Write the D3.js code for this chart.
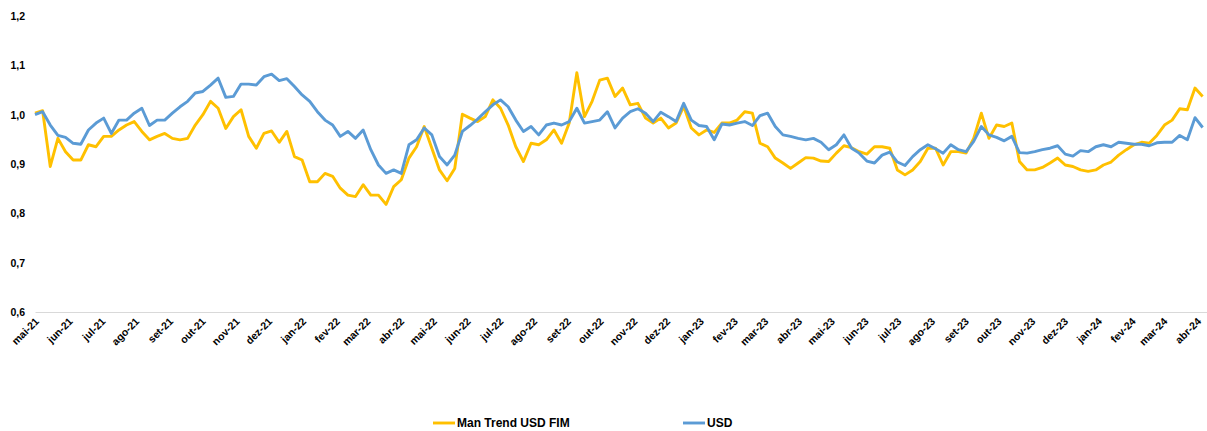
<!DOCTYPE html>
<html><head><meta charset="utf-8">
<script src="https://cdn.jsdelivr.net/npm/d3@7"></script>
<style>
html,body{margin:0;padding:0;background:#fff;}
svg{display:block;}
text{font-family:"Liberation Sans",Arial,sans-serif;font-weight:bold;fill:#000;}
</style></head>
<body><svg id="chart" width="1207" height="431"></svg>
<script>
const seriesNames = ["Man Trend USD FIM", "USD"];
const startDate = "2021-04-29";
const stepDays = 7;
const manTrend = [
1.003,1.008,0.895,0.952,0.925,0.908,0.908,0.939,0.935,0.956,
0.956,0.969,0.979,0.986,0.966,0.949,0.956,0.962,0.952,0.949,
0.952,0.979,1.000,1.027,1.013,0.972,0.996,1.010,0.956,0.932,
0.962,0.967,0.944,0.966,0.915,0.908,0.864,0.864,0.881,0.875,
0.851,0.837,0.834,0.858,0.837,0.837,0.818,0.854,0.868,0.912,
0.935,0.976,0.932,0.888,0.866,0.891,1.001,0.993,0.986,0.996,
1.030,1.013,0.979,0.935,0.905,0.942,0.939,0.949,0.969,0.942,
0.983,1.085,0.996,1.027,1.070,1.074,1.037,1.054,1.020,1.023,
0.993,0.983,0.993,0.973,0.983,1.017,0.973,0.959,0.969,0.964,
0.983,0.983,0.989,1.006,1.003,0.942,0.935,0.912,0.902,0.891,
0.902,0.913,0.912,0.906,0.905,0.922,0.937,0.933,0.925,0.920,
0.935,0.935,0.932,0.888,0.878,0.888,0.905,0.932,0.932,0.898,
0.925,0.925,0.922,0.952,1.003,0.952,0.979,0.976,0.983,0.905,
0.888,0.888,0.893,0.902,0.912,0.898,0.895,0.888,0.885,0.888,
0.898,0.904,0.918,0.929,0.939,0.944,0.942,0.958,0.979,0.989,
1.012,1.010,1.054,1.037];
const usd = [
1.000,1.006,0.979,0.958,0.954,0.942,0.940,0.969,0.983,0.993,
0.962,0.989,0.989,1.003,1.013,0.978,0.989,0.989,1.003,1.016,
1.027,1.044,1.047,1.060,1.074,1.035,1.037,1.062,1.062,1.060,
1.077,1.082,1.069,1.073,1.057,1.040,1.027,1.006,0.989,0.979,
0.956,0.966,0.952,0.969,0.929,0.898,0.881,0.888,0.881,0.939,
0.949,0.973,0.959,0.915,0.898,0.918,0.966,0.978,0.991,1.006,
1.020,1.030,1.016,0.989,0.966,0.976,0.959,0.979,0.983,0.979,
0.986,1.013,0.983,0.986,0.989,1.006,0.973,0.993,1.006,1.012,
1.003,0.986,1.005,0.996,0.986,1.023,0.989,0.978,0.976,0.949,
0.981,0.979,0.983,0.986,0.978,0.998,1.003,0.976,0.959,0.956,
0.952,0.949,0.952,0.944,0.929,0.939,0.959,0.932,0.922,0.906,
0.902,0.918,0.924,0.904,0.897,0.915,0.929,0.939,0.931,0.922,
0.939,0.929,0.925,0.946,0.976,0.959,0.954,0.947,0.956,0.923,
0.922,0.925,0.929,0.932,0.937,0.920,0.916,0.927,0.925,0.935,
0.939,0.935,0.944,0.942,0.940,0.940,0.937,0.943,0.944,0.944,
0.958,0.949,0.994,0.974];
const yTicks = [0.6, 0.7, 0.8, 0.9, 1.0, 1.1, 1.2];
const monthNames = ["jan","fev","mar","abr","mai","jun","jul","ago","set","out","nov","dez"];
const axisStart = "2021-04-29", axisEnd = "2024-04-08";
const firstMonth = "2021-05-01", lastMonth = "2024-04-01";

const parse = d3.utcParse("%Y-%m-%d");
const t0 = parse(startDate);
const dates = manTrend.map((_, i) => d3.utcDay.offset(t0, i * stepDays));

const svg = d3.select("#chart");
const x = d3.scaleUtc().domain([parse(axisStart), parse(axisEnd)]).range([35, 1207]);
const y = d3.scaleLinear().domain([0.6, 1.2]).range([312, 16]);

// y axis labels
const yAxis = d3.axisLeft(y).tickValues(yTicks).tickSize(0).tickPadding(0)
  .tickFormat(d => d3.format(".1f")(d).replace(".", ","));
svg.append("g").attr("transform", "translate(25,0)").call(yAxis)
  .call(g => g.select(".domain").remove())
  .call(g => g.selectAll("text").attr("font-size", 10.5).attr("font-family", "Liberation Sans").attr("font-weight","bold").attr("fill","#000"));

// x axis
const monthTicks = d3.utcMonth.range(parse(firstMonth), d3.utcDay.offset(parse(lastMonth), 1));
const xAxis = d3.axisBottom(x).tickValues(monthTicks).tickSize(0).tickPadding(0)
  .tickFormat(d => monthNames[d.getUTCMonth()] + "-" + String(d.getUTCFullYear()).slice(2));
const gx = svg.append("g").attr("transform", "translate(0,312)").call(xAxis);
gx.select(".domain").attr("stroke", "#d9d9d9").attr("stroke-width", 1);
gx.selectAll("text")
  .attr("font-size", 10.5).attr("font-family", "Liberation Sans").attr("font-weight","bold").attr("fill","#000")
  .attr("text-anchor", "end").attr("dy", null).attr("y", 0)
  .attr("transform", "translate(2,10) rotate(-45)");

// lines
const line = d3.line().x((d, i) => x(dates[i])).y(d => y(d)).curve(d3.curveLinear);
svg.append("path").datum(manTrend).attr("fill", "none").attr("stroke", "#FFC000")
  .attr("stroke-width", 2.9).attr("stroke-linejoin", "round").attr("d", line);
svg.append("path").datum(usd).attr("fill", "none").attr("stroke", "#5B9BD5")
  .attr("stroke-width", 2.9).attr("stroke-linejoin", "round").attr("d", line);

// legend
const legend = [{name: seriesNames[0], color: "#FFC000", x: 433}, {name: seriesNames[1], color: "#5B9BD5", x: 683}];
const lg = svg.append("g");
legend.forEach(l => {
  lg.append("line").attr("x1", l.x).attr("x2", l.x + 22).attr("y1", 423).attr("y2", 423)
    .attr("stroke", l.color).attr("stroke-width", 2.9);
  lg.append("text").attr("x", l.x + 24).attr("y", 427).attr("font-size", 12).text(l.name);
});
</script></body></html>
